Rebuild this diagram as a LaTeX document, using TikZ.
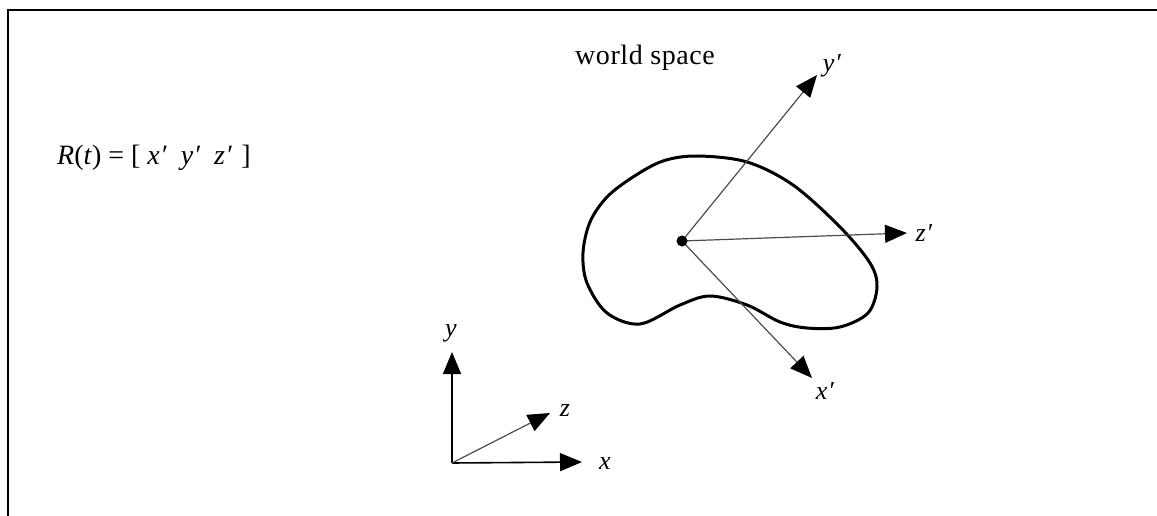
\documentclass[tikz,border=0pt]{standalone}
\usepackage{fontspec}
\setmainfont{Liberation Serif}
\usetikzlibrary{arrows.meta}
\newcommand{\pr}{\textit{\kern0.5pt′}}
\tikzset{
  axis/.style={line width=1.2pt,draw=black!70,-{Triangle[length=22pt,width=18pt,color=black]}},
  refaxis/.style={line width=1.6pt,black,-{Triangle[length=22pt,width=18pt]}},
  lbl/.style={font=\fontsize{26}{30}\selectfont,inner sep=0pt},
  biglbl/.style={font=\fontsize{28}{32}\selectfont,inner sep=0pt},
}
\begin{document}
\begin{tikzpicture}[x=1pt,y=-1pt]
\useasboundingbox (0,0) rectangle (1157,516);
\draw[line width=1.8pt] (8,516) -- (8,10) -- (1157,10);
% object
\draw[line width=3pt,line join=round] plot[smooth cycle,tension=0.55] coordinates {
 (697,156) (747,162) (793,185) (840,227) (870,263) (877,287) (868,313) (840,327) (807,328) (780,322) (747,305) (710,296) (680,305) (640,324) (607,313) (587,283) (583,253) (590,222) (607,197) (633,177) (663,161)};
\coordinate (oc) at (682,241);
\coordinate (ypt) at (817,75);
\coordinate (zpt) at (907,233);
\coordinate (xpt) at (812,378);
\draw[axis] (oc) -- (ypt);
\draw[axis] (oc) -- (zpt);
\draw[axis] (oc) -- (xpt);
\node[circle,fill=black,minimum size=11pt,inner sep=0pt] (o) at (oc) {};
\coordinate (b) at (452,463);
\coordinate (ye) at (452,352);
\coordinate (xe) at (582,462);
\coordinate (ze) at (550,413);
\draw[refaxis] (b) -- (ye);
\draw[refaxis] (b) -- (xe);
\draw[axis] (b) -- (ze);
\node[biglbl] (ws) at (645,58) {\addfontfeature{LetterSpace=2}world space};
\node[lbl] (yp) at (832,66) {\textit{y}\pr};
\node[lbl] (zp) at (924,233) {\textit{z}\pr};
\node[lbl] (xp) at (825,391) {\textit{x}\pr};
\node[lbl] (ly) at (451,333) {\textit{y}};
\node[lbl] (lz) at (565,411) {\textit{z}};
\node[lbl] (lx) at (605,464) {\textit{x}};
\node[biglbl] (eq) at (154,158) {\textit{R}(\textit{t}) = [ \textit{x}\pr\ \ \textit{y}\pr\ \ \textit{z}\pr\,\,]};
\end{tikzpicture}
\end{document}
